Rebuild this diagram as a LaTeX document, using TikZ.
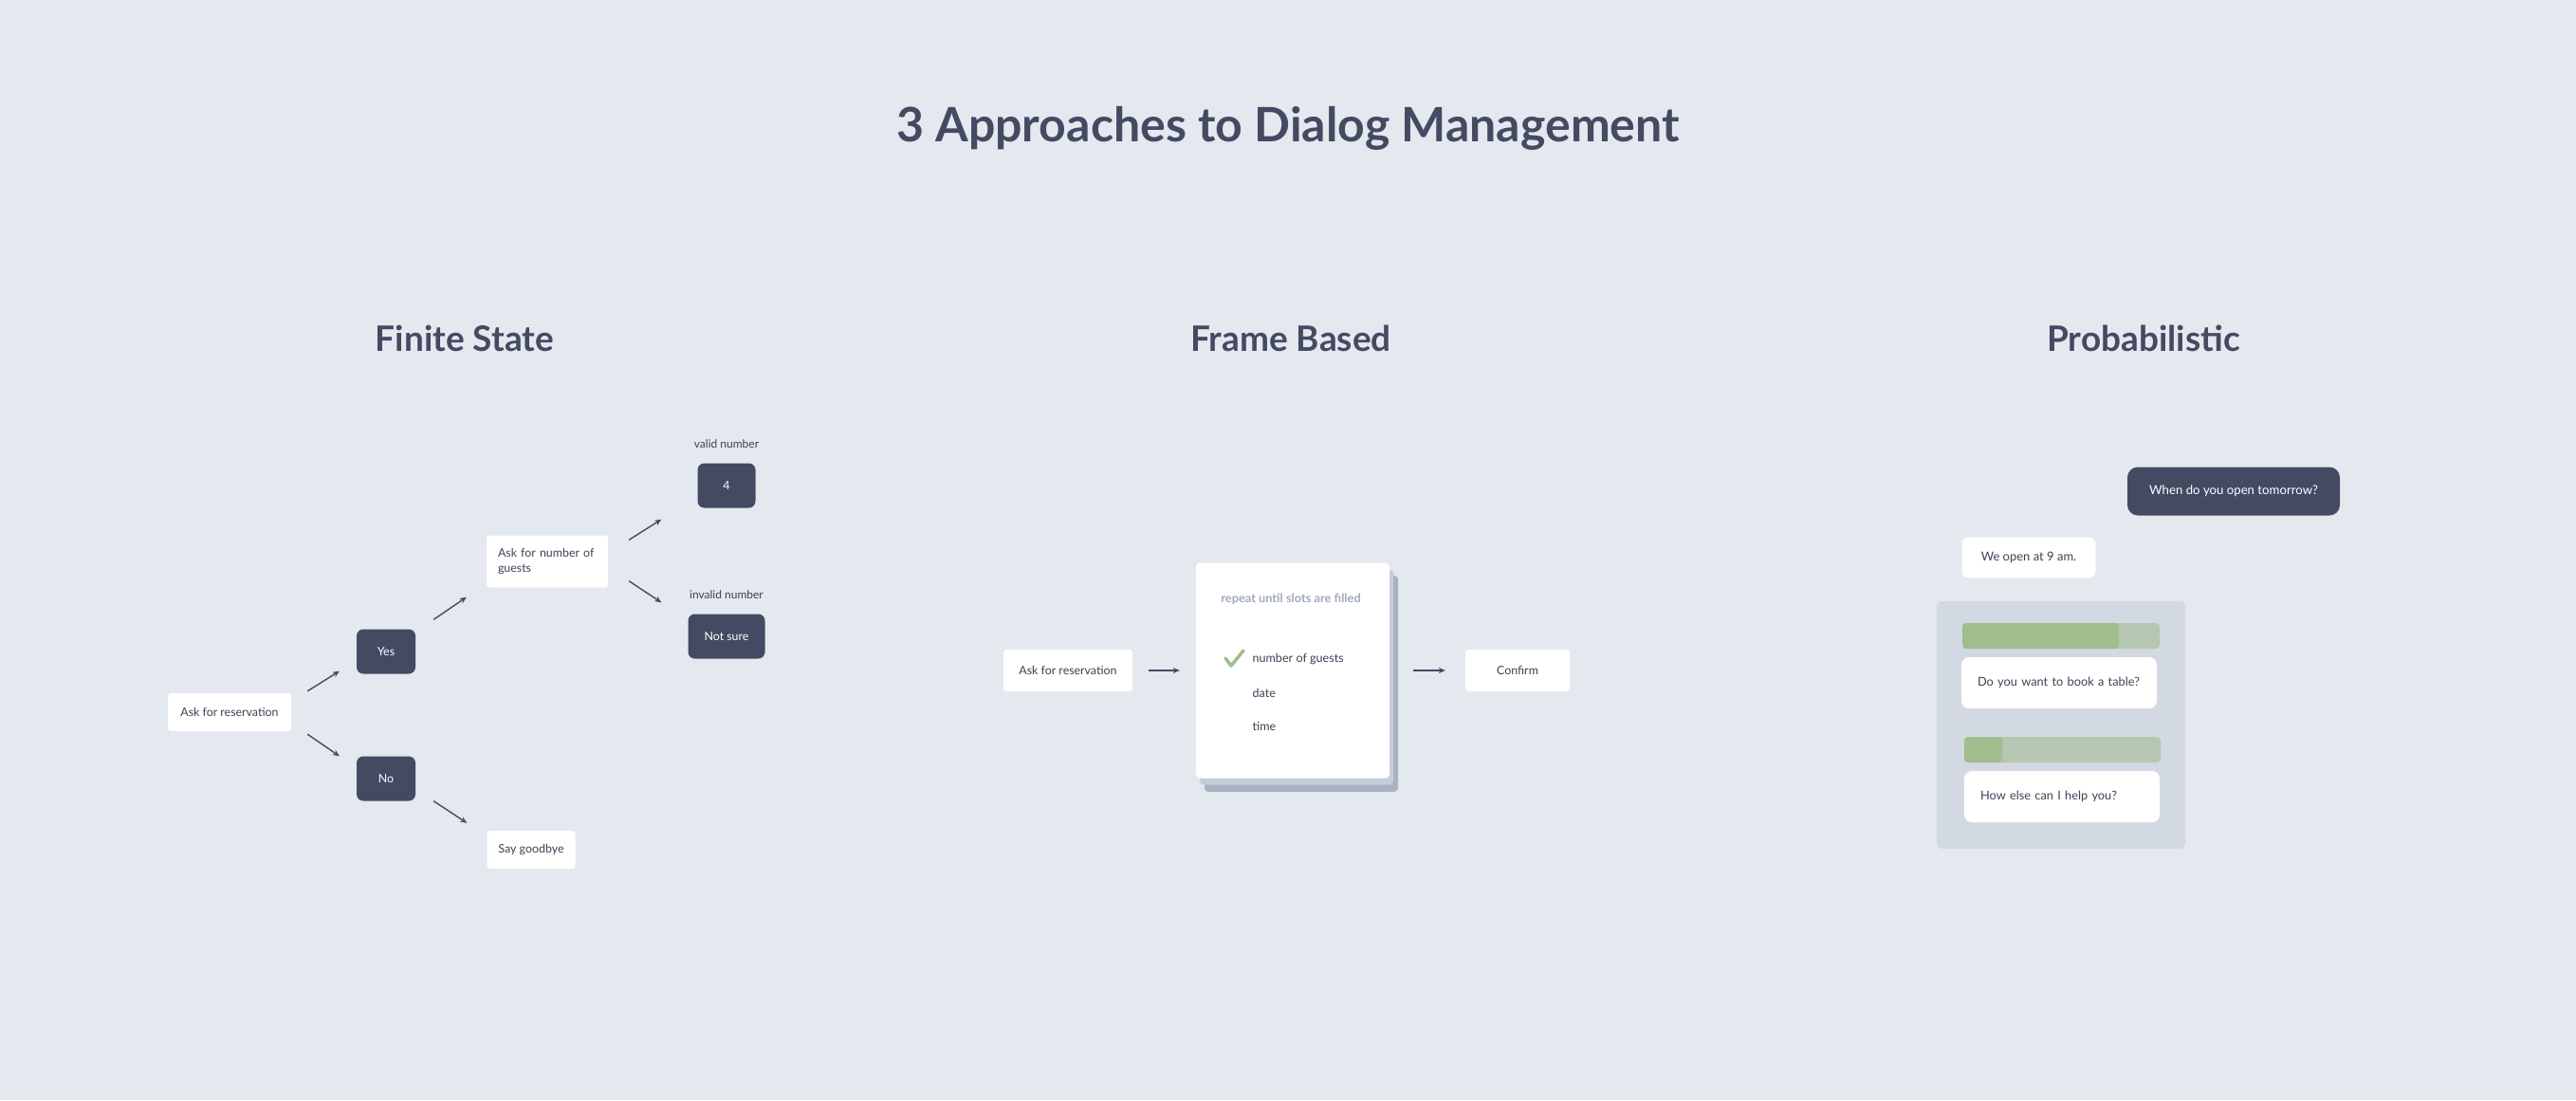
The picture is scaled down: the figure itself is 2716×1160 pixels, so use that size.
\documentclass[tikz,border=0pt]{standalone}
\usepackage{fontspec}
\setmainfont{Lato}
\usetikzlibrary{arrows.meta,positioning}
\definecolor{bgblue}{RGB}{228,232,239}
\definecolor{ink}{RGB}{69,74,99}
\definecolor{txtgray}{RGB}{62,66,84}
\definecolor{hintgray}{RGB}{160,170,188}
\definecolor{panelgray}{RGB}{211,217,227}
\definecolor{shadowdark}{RGB}{168,178,194}
\definecolor{shadowlite}{RGB}{196,204,217}
\definecolor{okgreen}{RGB}{160,189,140}
\definecolor{palegreen}{RGB}{181,199,176}
\tikzset{
  titletxt/.style={text=ink, font=\fontsize{50}{60}\bfseries\selectfont},
  headtxt/.style={text=ink, font=\fontsize{37}{44}\bfseries\selectfont},
  wbox/.style={fill=white, rounded corners=3pt, text=txtgray, inner sep=0pt,
               align=center, font=\fontsize{12.4}{16}\selectfont},
  dbox/.style={fill=ink, rounded corners=7pt, text=white, inner sep=0pt,
               align=center, font=\fontsize{12.4}{16}\selectfont},
  chatbox/.style={wbox, rounded corners=8pt, align=left, inner xsep=17pt,
                  font=\fontsize{12.8}{16}\selectfont},
  lbl/.style={text=txtgray, font=\fontsize{12}{14}\selectfont},
  slot/.style={text=txtgray, anchor=west, font=\fontsize{12.6}{16}\selectfont},
  arr/.style={-{Stealth[length=7pt,width=6pt]}, ink, line width=1.4pt},
}
\begin{document}
\begin{tikzpicture}[x=1pt,y=-1pt]
  \fill[bgblue] (0,0) rectangle (2716,1160);
  \useasboundingbox (0,0) rectangle (2716,1160);

  \node[titletxt] (title) at (1358,135) {3 Approaches to Dialog Management};
  \node[headtxt] (hfinite) at (490,357) {Finite State};
  \node[headtxt] (hframe) at (1361,357) {Frame Based};
  \node[headtxt] (hprob) at (2260,357) {Probabilistic};

  % finite state
  \node[wbox, minimum width=130pt, minimum height=40pt] (askres) at (242,751) {Ask for reservation};
  \node[dbox, minimum width=62pt, minimum height=47pt] (yes) at (407,687) {Yes};
  \node[dbox, minimum width=62pt, minimum height=47pt] (no) at (407,821) {No};
  \node[wbox, minimum width=128pt, minimum height=55pt, text width=104pt, align=left,
        inner xsep=12pt] (askguests) at (577,592) {Ask for number of\\guests};
  \node[wbox, minimum width=93pt, minimum height=40pt] (bye) at (560,896) {Say goodbye};
  \node[dbox, minimum width=61pt, minimum height=47pt] (four) at (766,512) {4};
  \node[dbox, minimum width=81pt, minimum height=47pt] (notsure) at (766,671) {Not sure};
  \node[lbl] (validlbl) at (766,468) {valid number};
  \node[lbl] (invalidlbl) at (766,627) {invalid number};
  \draw[arr] ([shift={(17,-2)}]askres.north east) -- ([shift={(-18,-3)}]yes.south west);
  \draw[arr] ([shift={(17,3)}]askres.south east) -- ([shift={(-18,0)}]no.north west);
  \draw[arr] ([shift={(19,-10)}]yes.north east) -- ([shift={(-21,10)}]askguests.south west);
  \draw[arr] ([shift={(19,0)}]no.south east) -- ([shift={(-21,-8)}]bye.north west);
  \draw[arr] ([shift={(22,5)}]askguests.north east) -- ([shift={(-38,12)}]four.south west);
  \draw[arr] ([shift={(22,-7)}]askguests.south east) -- ([shift={(-28,-12)}]notsure.north west);

  % frame based
  \node[wbox, minimum width=136pt, minimum height=44pt] (askres2) at (1126,707) {Ask for reservation};
  \node[fill=shadowdark, rounded corners=4pt, minimum width=204pt, minimum height=228pt] (cardback) at (1372,721) {};
  \node[fill=shadowlite, rounded corners=4pt, minimum width=204pt, minimum height=227pt] (cardmid) at (1367,714) {};
  \node[fill=white, rounded corners=4pt, minimum width=204pt, minimum height=227pt] (card) at (1363,707) {};
  \node[text=hintgray, font=\fontsize{12.8}{16}\bfseries\selectfont] (repeat) at (1361,632) {repeat until slots are filled};
  \node[slot] (sguests) at (1317,695) {number of guests};
  \node[slot] (sdate) at (1317,731) {date};
  \node[slot] (stime) at (1317,766) {time};
  \draw[okgreen, line width=3.5pt, line cap=round, line join=round]
    (1292,694) -- (1298,702) -- (1311,686);
  \node[wbox, minimum width=110pt, minimum height=44pt] (confirm) at (1600,707) {Confirm};
  \draw[arr] ([xshift=17pt]askres2.east) -- ([xshift=-17pt]card.west);
  \draw[arr] ([xshift=25pt]card.east) -- ([xshift=-21pt]confirm.west);

  % probabilistic
  \node[dbox, rounded corners=11pt, minimum width=224pt, minimum height=51pt,
        font=\fontsize{13.2}{16}\selectfont] (ask) at (2355,518) {When do you open tomorrow?};
  \node[wbox, rounded corners=7pt, minimum width=141pt, minimum height=43pt,
        font=\fontsize{13}{16}\selectfont] (reply) at (2139,588) {We open at 9 am.};
  \fill[panelgray, rounded corners=6pt] (2042,634) rectangle (2304,895);
  \fill[palegreen, rounded corners=4pt] (2069,657) rectangle (2277,684);
  \fill[okgreen, rounded corners=4pt] (2069,657) rectangle (2234,684);
  \node[chatbox, minimum width=206pt, minimum height=54pt, text width=172pt] (opt1) at (2171,720) {Do you want to book a table?};
  \fill[palegreen, rounded corners=4pt] (2071,777) rectangle (2278,804);
  \fill[okgreen, rounded corners=4pt] (2071,777) rectangle (2111,804);
  \node[chatbox, minimum width=206pt, minimum height=54pt, text width=172pt] (opt2) at (2174,840) {How else can I help you?};
\end{tikzpicture}
\end{document}
